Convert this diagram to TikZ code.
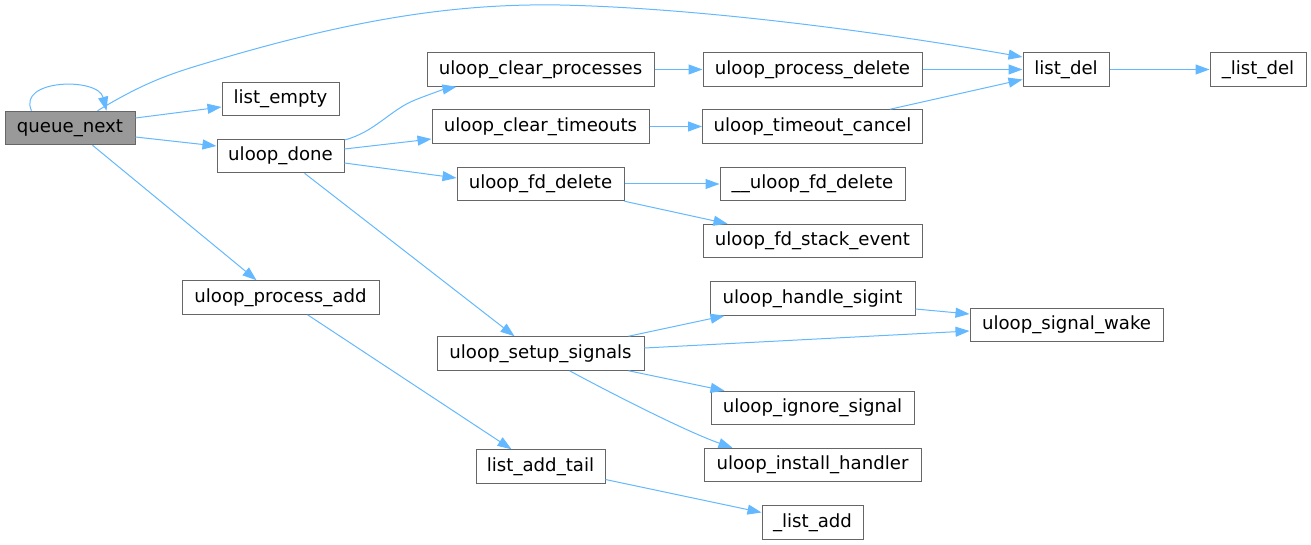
\documentclass[tikz,border=0pt]{standalone}
\usepackage{fontspec}
\setmainfont{DejaVu Sans}
\usetikzlibrary{arrows.meta,calc}
\newdimen\pxu \pxu=0.75pt
\definecolor{edgeblue}{HTML}{63B8FF}
\definecolor{boxgray}{HTML}{666666}
\definecolor{rootfill}{HTML}{999999}
\tikzset{
  fnbox/.style={draw=boxgray, line width=0.75pt, fill=white, inner sep=0pt,
    minimum height=25.125pt, font=\fontsize{13.6}{16}\selectfont, text=black},
  rootbox/.style={fnbox, fill=rootfill},
  callarrow/.style={draw=edgeblue, line width=0.75pt,
    -{Triangle[length=10.5pt, width=7.5pt]}, color=edgeblue}
}
\begin{document}
\begin{tikzpicture}[x=0.75pt, y=-0.75pt]
\useasboundingbox (0,0) rectangle (1311,545);
% nodes
\node[rootbox, minimum width=130\pxu] (qn) at (70,128) {queue\_next};
\node[fnbox, minimum width=117\pxu] (le) at (280.5,99) {list\_empty};
\node[fnbox, minimum width=127\pxu] (ud) at (280.5,156) {uloop\_done};
\node[fnbox, minimum width=197\pxu] (pa) at (280.5,297.5) {uloop\_process\_add};
\node[fnbox, minimum width=227\pxu] (cp) at (540.5,69.5) {uloop\_clear\_processes};
\node[fnbox, minimum width=217\pxu] (ct) at (540.5,126.5) {uloop\_clear\_timeouts};
\node[fnbox, minimum width=167\pxu] (fd) at (540.5,184) {uloop\_fd\_delete};
\node[fnbox, minimum width=207\pxu] (ss) at (540.5,353.5) {uloop\_setup\_signals};
\node[fnbox, minimum width=129\pxu] (lat) at (540.5,466.5) {list\_add\_tail};
\node[fnbox, minimum width=219\pxu] (pd) at (812.5,69.5) {uloop\_process\_delete};
\node[fnbox, minimum width=220\pxu] (tc) at (812.5,126.5) {uloop\_timeout\_cancel};
\node[fnbox, minimum width=185\pxu] (fdd) at (812.5,184) {\_\_uloop\_fd\_delete};
\node[fnbox, minimum width=219\pxu] (fse) at (812.5,241) {uloop\_fd\_stack\_event};
\node[fnbox, minimum width=205\pxu] (hs) at (812.5,298.5) {uloop\_handle\_sigint};
\node[fnbox, minimum width=203\pxu] (is) at (812.5,408) {uloop\_ignore\_signal};
\node[fnbox, minimum width=217\pxu] (ih) at (812.5,465) {uloop\_install\_handler};
\node[fnbox, minimum width=101\pxu] (la) at (812.5,522.5) {\_list\_add};
\node[fnbox, minimum width=86\pxu] (ld) at (1066,69.5) {list\_del};
\node[fnbox, minimum width=193\pxu] (sw) at (1066.5,325) {uloop\_signal\_wake};
\node[fnbox, minimum width=96\pxu] (lld) at (1258,69.5) {\_list\_del};
% edges
\draw[callarrow] ($(qn.north west)+(27,0)$) .. controls (17,79) and (98,77) .. ($(qn.north west)+(102,0)$);
\draw[callarrow] ($(qn.north west)+(93,0)$) .. controls (140,85) and (165,76) .. (190,68)
   .. controls (330,25) and (440,3) .. (560,5)
   .. controls (700,8) and (880,32) .. ($(ld.west)+(0,-12.5)$);
\draw[callarrow] ($(qn.east)+(0,-10)$) -- ($(le.west)+(0,8)$);
\draw[callarrow] ($(qn.east)+(0,9)$) -- ($(ud.west)+(0,-10)$);
\draw[callarrow] ($(qn.south west)+(88,0)$) -- ($(pa.north west)+(75,0)$);
\draw[callarrow] ($(ud.east)+(0,-16)$) .. controls (375,132) and (390,110) .. (415,100)
   .. controls (430,94) and (445,89) .. ($(cp.south west)+(30,0)$);
\draw[callarrow] ($(ud.east)+(0,-7)$) -- ($(ct.west)+(0,12.5)$);
\draw[callarrow] ($(ud.east)+(0,7)$) -- ($(fd.west)+(0,-6)$);
\draw[callarrow] ($(ud.south west)+(88,0)$) -- ($(ss.north west)+(78,0)$);
\draw[callarrow] (cp.east) -- (pd.west);
\draw[callarrow] (pd.east) -- (ld.west);
\draw[callarrow] (ct.east) -- (tc.west);
\draw[callarrow] ($(tc.north west)+(188,0)$) -- ($(ld.west)+(0,10)$);
\draw[callarrow] (ld.east) -- (lld.west);
\draw[callarrow] (fd.east) -- (fdd.west);
\draw[callarrow] (fd.south east) -- ($(fse.north west)+(25,0)$);
\draw[callarrow] ($(pa.south west)+(126,0)$) -- ($(lat.north west)+(36,0)$);
\draw[callarrow] ($(lat.east)+(0,13)$) -- ($(la.west)+(0,-10)$);
\draw[callarrow] ($(ss.north east)+(-16,0)$) -- ($(hs.south west)+(15,0)$);
\draw[callarrow] ($(ss.east)+(0,-5.5)$) -- ($(sw.west)+(0,6)$);
\draw[callarrow] ($(hs.east)+(0,10.5)$) -- ($(sw.west)+(0,-11)$);
\draw[callarrow] ($(ss.south east)+(-16,0)$) -- ($(is.north west)+(14,0)$);
\draw[callarrow] ($(ss.south west)+(133,0)$) .. controls (620,398) and (690,433) .. ($(ih.north west)+(29,0)$);
\end{tikzpicture}
\end{document}
